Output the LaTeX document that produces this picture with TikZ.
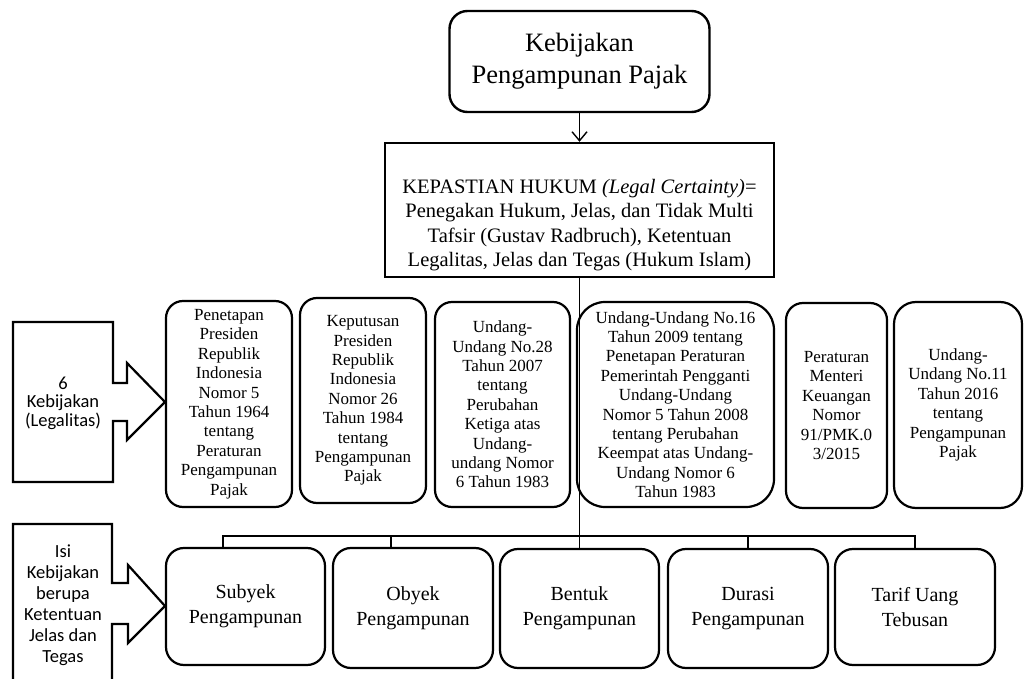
\documentclass[tikz,border=0pt]{standalone}
\usepackage{fontspec}
\setmainfont{Liberation Serif}
\newfontfamily\calibri{Carlito}
\usepackage{tikz}
\usetikzlibrary{arrows.meta}
\tikzstyle{garis}=[black, line width=1.3pt]
\tikzstyle{panah}=[-{Straight Barb[length=9pt,width=15pt]}, black, line width=1.4pt]
\tikzstyle{judul_gen}=[rectangle, rounded corners=18pt, draw=black, line width=2.4pt, align=center, font=\fontsize{26.5}{32}\selectfont]
\tikzstyle{hukum_gen}=[rectangle, draw=black, line width=2.4pt]
\tikzstyle{hukumText}=[align=center, inner sep=0pt, font=\fontsize{20.5}{24.5}\selectfont]
\tikzstyle{dasar_gen}=[rectangle, rounded corners=17pt, draw=black, line width=2.2pt, align=center, inner sep=0pt, font=\fontsize{17}{19.4}\selectfont]
\tikzstyle{isi_gen}=[rectangle, rounded corners=18pt, draw=black, line width=2.2pt, align=center, inner sep=0pt, minimum width=159pt, minimum height=118pt, font=\fontsize{20}{25}\selectfont]
\tikzstyle{ket_gen}=[draw=black, line width=2.2pt, line join=miter]
\tikzstyle{ketText}=[align=center, inner sep=0pt, font=\calibri\fontsize{18.5}{18.5}\selectfont]

\begin{document}
\begin{tikzpicture}[x=1pt, y=-1pt]
    \useasboundingbox (0,0) rectangle (1029,679);

    % Atas
    \node [style=judul_gen, minimum width=260pt, minimum height=101pt] (judul) at (579.5, 61.5) {Kebijakan\\Pengampunan Pajak};
    \node [style=hukum_gen, minimum width=389pt, minimum height=134pt] (kepastian) at (579.5, 210) {};
    \node [style=hukumText] (kepastianText) at (579.5, 225) {KEPASTIAN HUKUM \textit{(Legal Certainty)}=\\Penegakan Hukum, Jelas, dan Tidak Multi\\Tafsir (Gustav Radbruch), Ketentuan\\Legalitas, Jelas dan Tegas (Hukum Islam)};
    \draw [style={panah}] (judul.south) -- (kepastian.north);

    % Legalitas
    \draw [style={ket_gen}] (13,322) -- (113,322) -- (113,383) -- (127,383) -- (127,363) -- (165,402) -- (127,440) -- (127,421) -- (113,421) -- (113,482) -- (13,482) -- cycle;
    \node [style=ketText] (legalitas) at (63, 403) {6\\Kebijakan\\(Legalitas)};

    \node [style=dasar_gen, minimum width=126pt, minimum height=206pt] (penpres) at (229, 404) {Penetapan\\Presiden\\Republik\\Indonesia\\Nomor 5\\Tahun 1964\\tentang\\Peraturan\\Pengampunan\\Pajak};
    \node [style=dasar_gen, minimum width=126pt, minimum height=205pt] (keppres) at (363, 400.5) {Keputusan\\Presiden\\Republik\\Indonesia\\Nomor 26\\Tahun 1984\\tentang\\Pengampunan\\Pajak};
    \node [style=dasar_gen, minimum width=135pt, minimum height=205pt] (uu28) at (502.5, 404.5) {Undang-\\Undang No.28\\Tahun 2007\\tentang\\Perubahan\\Ketiga atas\\Undang-\\undang Nomor\\6 Tahun 1983};
    \node [style=dasar_gen, rounded corners=28pt, minimum width=197pt, minimum height=205pt] (perppu) at (675.5, 404.5) {Undang-Undang No.16\\Tahun 2009 tentang\\Penetapan Peraturan\\Pemerintah Pengganti\\Undang-Undang\\Nomor 5 Tahun 2008\\tentang Perubahan\\Keempat atas Undang-\\Undang Nomor 6\\Tahun 1983};
    \node [style=dasar_gen, minimum width=101pt, minimum height=205pt] (pmk) at (836.5, 405.5) {Peraturan\\Menteri\\Keuangan\\Nomor\\91/PMK.0\\3/2015};
    \node [style=dasar_gen, rounded corners=22pt, minimum width=128pt, minimum height=206pt] (uu11) at (958, 405) {Undang-\\Undang No.11\\Tahun 2016\\tentang\\Pengampunan\\Pajak};

    % Isi kebijakan
    \draw [style={ket_gen}] (13,690) -- (13,524) -- (112,524) -- (112,583) -- (128,583) -- (128,565) -- (165,606) -- (128,643) -- (128,624) -- (112,624) -- (112,690);
    \node [style=ketText, font=\calibri\fontsize{18.5}{21}\selectfont] (isi) at (63, 605) {Isi\\Kebijakan\\berupa\\Ketentuan\\Jelas dan\\Tegas};

    \node [style=isi_gen, minimum height=117pt] (subyek) at (245.5, 606.5) {Subyek\\Pengampunan};
    \node [style=isi_gen, minimum width=160pt, minimum height=120pt] (obyek) at (413, 608) {Obyek\\Pengampunan};
    \node [style=isi_gen, minimum height=119pt] (bentuk) at (579.5, 608.5) {Bentuk\\Pengampunan};
    \node [style=isi_gen, minimum width=160pt, minimum height=119pt] (durasi) at (748, 608.5) {Durasi\\Pengampunan};
    \node [style=isi_gen, minimum width=160pt, minimum height=116pt] (tarif) at (915, 607) {Tarif Uang\\Tebusan};

    % Garis
    \coordinate (busL) at (223, 536);
    \coordinate (busR) at (915, 536);
    \draw [style={garis}] (kepastian.south) -- (bentuk.north);
    \draw [style={garis}] ([xshift=-22.5pt]subyek.north) -- (busL) -- (busR) -- (tarif.north);
    \draw [style={garis}] ([xshift=-22pt]obyek.north) -- ([xshift=-22pt]obyek.north |- busL);
    \draw [style={garis}] (durasi.north) -- (durasi.north |- busL);
\end{tikzpicture}
\end{document}
